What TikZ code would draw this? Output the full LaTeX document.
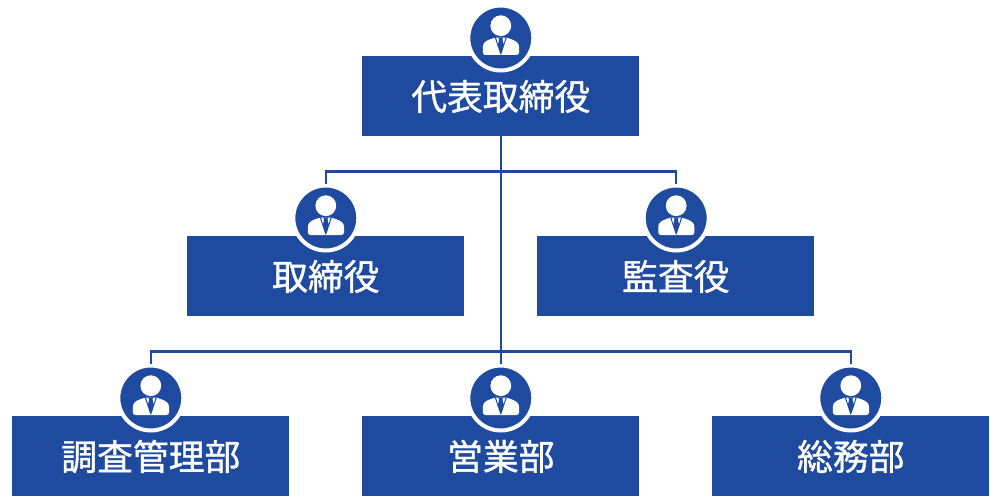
\documentclass[tikz,border=0pt]{standalone}
\usepackage{fontspec}
\setmainfont[FakeBold=1]{Noto Sans CJK JP}
\definecolor{corpblue}{HTML}{1E4A9F}
\tikzset{
	post/.style={draw=none, fill=corpblue, text=white, minimum width=277pt, minimum height=80pt, inner sep=0pt, font=\fontsize{35.8}{36}\selectfont, text depth=2pt},
	badge/.style={circle, draw=white, line width=4pt, fill=corpblue, minimum size=65pt, inner sep=0pt},
	conn/.style={draw=corpblue, line width=2.2pt},
	person/.pic={
		\fill[white] (0,-12.3) circle (10.4);
		\fill[white, rounded corners=2.5pt] (-17.9,17) -- (-17.9,6) -- (-14,2.5) -- (-5.5,-0.5) -- (5.5,-0.5) -- (14,2.5) -- (18.2,6) -- (18.2,17) -- cycle;
		\fill[corpblue] (-6,-0.5) -- (-1.2,14) -- (0,17) -- (1.2,14) -- (6,-0.5) -- (4.8,-0.5) -- (2.8,6.5) -- (1.7,1.2) -- (2.6,-0.5) -- (-2.6,-0.5) -- (-1.7,1.2) -- (-2.8,6.5) -- (-4.8,-0.5) -- cycle;
	}
}
\begin{document}
\begin{tikzpicture}[x=1pt,y=-1pt]
	\useasboundingbox (0,0) rectangle (1000,500);
	\node[post] (daihyo) at (500.8,96) {代表取締役};
	\node[post] (torishimari) at (325.8,276) {取締役};
	\node[post] (kansa) at (675.8,276) {監査役};
	\node[post] (chosa) at (150.8,456) {調査管理部};
	\node[post] (eigyo) at (500.8,456) {営業部};
	\node[post] (somu) at (850.8,456) {総務部};
	\node[badge] (daihyoicon) at (500.8,38) {};
	\node[badge] (torishimariicon) at (325.8,218) {};
	\node[badge] (kansaicon) at (676.2,218) {};
	\node[badge] (chosaicon) at (150.8,398) {};
	\node[badge] (eigyoicon) at (500.8,398) {};
	\node[badge] (somuicon) at (850.8,398) {};
	\pic at (daihyoicon) {person};
	\pic at (torishimariicon) {person};
	\pic at (kansaicon) {person};
	\pic at (chosaicon) {person};
	\pic at (eigyoicon) {person};
	\pic at (somuicon) {person};
	\coordinate (upper) at (500.8,171.5);
	\coordinate (lower) at (500.8,351.5);
	\draw[conn] (daihyo.south) -- (eigyoicon.north);
	\draw[conn] (torishimariicon.north) |- (upper) -| (kansaicon.north);
	\draw[conn] (chosaicon.north) |- (lower) -| (somuicon.north);
\end{tikzpicture}
\end{document}
